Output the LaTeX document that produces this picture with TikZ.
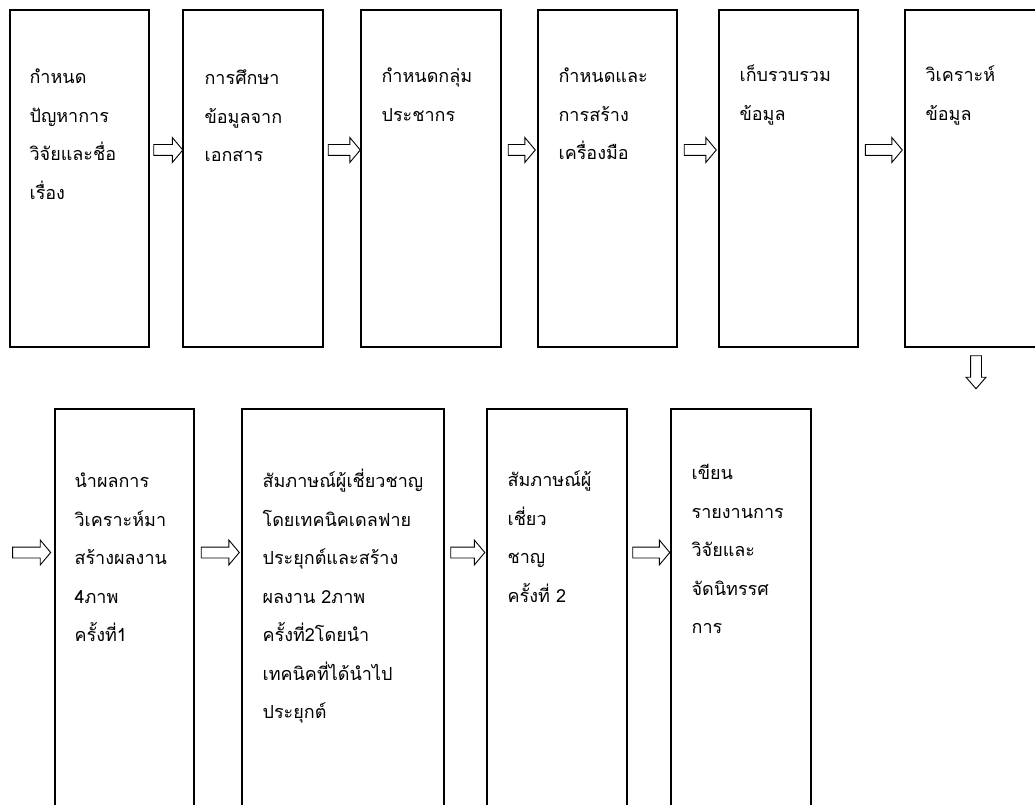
\documentclass[tikz,border=0pt]{standalone}
\usepackage{fontspec}
\newfontfamily\thaifont[Script=Thai]{Loma}
\usetikzlibrary{shapes.arrows,calc}
\newcommand\firstlinerule{\rule{0pt}{20pt}}
\begin{document}
\begin{tikzpicture}[x=1pt,y=-1pt,
  box/.style={draw=black,line width=1.2pt,inner sep=0pt,minimum width=139pt},
  txt/.style={anchor=north west,align=left,inner sep=0pt,font={\thaifont\fontsize{18}{38.5}\selectfont}},
  harrow/.style={single arrow,draw=black,line width=0.9pt,fill=white,inner sep=5pt,
    minimum width=24pt,single arrow head extend=7pt,single arrow tip angle=100},
  varrow/.style={single arrow,draw=black,line width=0.9pt,fill=white,inner sep=5pt,
    minimum width=19pt,single arrow head extend=4.5pt,single arrow tip angle=82,shape border rotate=270}
]
\useasboundingbox (0,0) rectangle (1035,805);
\clip (0,0) rectangle (1035,805);
\fill[white] (0,0) rectangle (1035,805);
% top row
\node[box,minimum height=337pt] (b1) at (79.5,178.5) {};
\node[box,minimum height=337pt,minimum width=140pt] (b2) at (253,178.5) {};
\node[box,minimum height=337pt,minimum width=140pt] (b3) at (431,178.5) {};
\node[box,minimum height=337pt] (b4) at (607.5,178.5) {};
\node[box,minimum height=337pt] (b5) at (788.5,178.5) {};
\node[box,minimum height=337pt] (b6) at (974.5,178.5) {};
% bottom row
\node[box,minimum height=500pt] (b7) at (124.5,659) {};
\node[box,minimum height=500pt,minimum width=202pt] (b8) at (343,659) {};
\node[box,minimum height=500pt,minimum width=140pt] (b9) at (557,659) {};
\node[box,minimum height=500pt,minimum width=140pt] (b10) at (741,659) {};
% texts (first baseline = node top + 20)
\node[txt] (t1) at ($(b1.north west)+(20,54)$) {\firstlinerule กำหนด\\ปัญหาการ\\วิจัยและชื่อ\\เรื่อง};
\node[txt] (t2) at ($(b2.north west)+(22,55)$) {\firstlinerule การศึกษา\\ข้อมูลจาก\\เอกสาร};
\node[txt] (t3) at ($(b3.north west)+(21,53)$) {\firstlinerule กำหนดกลุ่ม\\ประชากร};
\node[txt] (t4) at ($(b4.north west)+(21,53)$) {\firstlinerule กำหนดและ\\การสร้าง\\เครื่องมือ};
\node[txt] (t5) at ($(b5.north west)+(21,52)$) {\firstlinerule เก็บรวบรวม\\ข้อมูล};
\node[txt] (t6) at ($(b6.north west)+(21,52)$) {\firstlinerule วิเคราะห์\\ข้อมูล};
\node[txt] (t7) at ($(b7.north west)+(20,59)$) {\firstlinerule นำผลการ\\วิเคราะห์มา\\สร้างผลงาน\\4ภาพ\\ครั้งที่1};
\node[txt] (t8) at ($(b8.north west)+(21,59)$) {\firstlinerule สัมภาษณ์ผู้เชี่ยวชาญ\\โดยเทคนิคเดลฟาย\\ประยุกต์และสร้าง\\ผลงาน 2ภาพ\\ครั้งที่2โดยนำ\\เทคนิคที่ได้นำไป\\ประยุกต์};
\node[txt] (t9) at ($(b9.north west)+(21,58)$) {\firstlinerule สัมภาษณ์ผู้\\เชี่ยว\\ชาญ\\ครั้งที่ 2};
\node[txt] (t10) at ($(b10.north west)+(21,51)$) {\firstlinerule เขียน\\รายงานการ\\วิจัยและ\\จัดนิทรรศ\\การ};
% arrows top row
\node[harrow,minimum height=29pt] (a1) at ($(b1.east)!0.5!(b2.west)+(0,-28.5)$) {};
\node[harrow,minimum height=32pt] (a2) at ($(b2.east)!0.5!(b3.west)+(0,-28.5)$) {};
\node[harrow,minimum height=27pt] (a3) at ($(b3.east)!0.5!(b4.west)+(0,-28.5)$) {};
\node[harrow,minimum height=32pt] (a4) at ($(b4.east)!0.5!(b5.west)+(0,-28.5)$) {};
\node[harrow,minimum height=37pt] (a5) at ($(b5.east)!0.5!(b6.west)+(0,-28.5)$) {};
% down arrow
\node[varrow,minimum height=33pt] (a6) at ($(b6.south)+(1.5,21.5)$) {};
% arrows bottom row
\node[harrow,minimum height=38pt] (a7) at ($(b7.west)+(-25,-106.5)$) {};
\node[harrow,minimum height=38pt] (a8) at ($(b7.east)!0.5!(b8.west)+(0,-106.5)$) {};
\node[harrow,minimum height=34pt] (a9) at ($(b8.east)!0.5!(b9.west)+(0,-106.5)$) {};
\node[harrow,minimum height=37pt] (a10) at ($(b9.east)!0.5!(b10.west)+(0,-106.5)$) {};
\end{tikzpicture}
\end{document}
